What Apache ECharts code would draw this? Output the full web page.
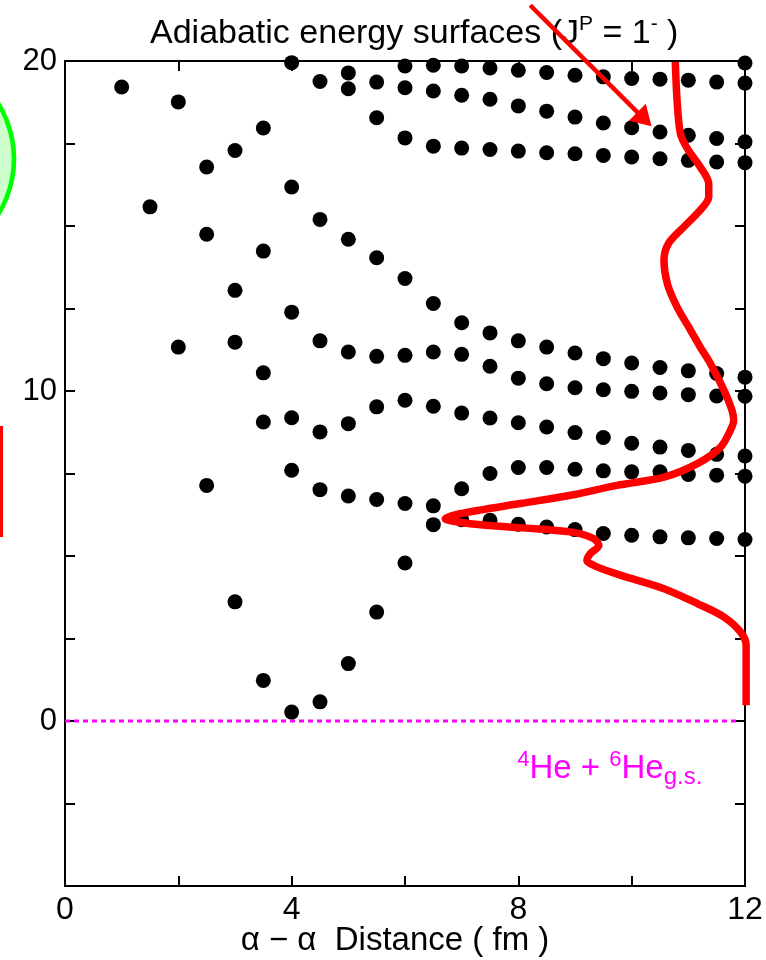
<!DOCTYPE html>
<html><head><meta charset="utf-8">
<script src="https://cdn.jsdelivr.net/npm/echarts@6/dist/echarts.min.js"></script>
<style>html,body{margin:0;padding:0;background:#fff}#c{width:766px;height:960px}</style>
</head><body><div id="c"></div>
<script>
const FONT = '"Liberation Sans", Arial, Helvetica, sans-serif';

// adiabatic energies (MeV) at each alpha-alpha distance (fm)
const e1_0 = [19.21];
const e1_5 = [15.58];
const e2_0 = [18.76, 11.33];
const e2_5 = [16.79, 14.75, 7.14];
const e3_0 = [17.29, 13.05, 11.48, 3.61];
const e3_5 = [17.97, 14.24, 10.55, 9.06, 1.23];
const e4_0 = [19.95, 16.18, 12.39, 9.19, 7.60, 0.27];
const e4_5 = [19.38, 15.20, 11.52, 8.76, 7.01, 0.58];
const e5_0 = [19.64, 19.16, 14.60, 11.18, 9.01, 6.82, 1.74];
const e5_5 = [19.36, 18.28, 14.04, 11.05, 9.52, 6.71, 3.30];
const e6_0 = [19.85, 19.19, 17.67, 13.41, 11.08, 9.72, 6.59, 4.79];
const e6_5 = [19.87, 19.09, 17.42, 12.65, 11.18, 9.54, 6.52, 5.95];
const e7_0 = [19.85, 18.96, 17.36, 12.07, 11.11, 9.33, 7.04, 6.10];
const e7_5 = [19.79, 18.84, 17.32, 11.76, 10.75, 9.18, 7.50, 6.08];
const e8_0 = [19.72, 18.64, 17.27, 11.52, 10.39, 9.04, 7.68, 5.96];
const e8_5 = [19.65, 18.48, 17.22, 11.33, 10.22, 8.91, 7.68, 5.88];
const e9_0 = [19.57, 18.30, 17.19, 11.15, 10.10, 8.74, 7.63, 5.80];
const e9_5 = [19.52, 18.12, 17.14, 10.98, 10.04, 8.59, 7.58, 5.68];
const e10_0 = [19.47, 17.98, 17.09, 10.85, 9.99, 8.42, 7.55, 5.63];
const e10_5 = [19.45, 17.85, 17.04, 10.71, 9.94, 8.30, 7.55, 5.58];
const e11_0 = [19.42, 17.75, 16.99, 10.61, 9.89, 8.20, 7.47, 5.55];
const e11_5 = [19.36, 17.65, 16.94, 10.53, 9.85, 8.08, 7.45, 5.53];
const e12_0 = [19.94, 19.33, 17.55, 16.92, 10.42, 9.84, 8.03, 7.42, 5.50];

const distances = [1, 1.5, 2, 2.5, 3, 3.5, 4, 4.5, 5, 5.5, 6, 6.5, 7, 7.5, 8, 8.5, 9, 9.5, 10, 10.5, 11, 11.5, 12];
const energyColumns = [e1_0, e1_5, e2_0, e2_5, e3_0, e3_5, e4_0, e4_5, e5_0, e5_5, e6_0, e6_5, e7_0, e7_5, e8_0, e8_5, e9_0, e9_5, e10_0, e10_5, e11_0, e11_5, e12_0];

// red wave-function-like curve (x, y) in data units
const curveX = [10.77, 10.80, 10.86, 10.98, 11.21, 11.36, 11.36, 11.21, 10.92, 10.65, 10.57, 10.63, 10.80, 11.04, 11.21, 11.39, 11.63, 11.77, 11.80, 11.77, 11.57, 11.16, 10.57, 9.74, 8.92, 8.03, 6.97, 6.71, 7.15, 8.03, 8.92, 9.33, 9.42, 9.27, 9.21, 9.39, 9.80, 10.57, 11.16, 11.63, 11.92, 12.02, 12.02];
const curveY = [19.97, 18.84, 17.80, 17.35, 16.79, 16.28, 15.88, 15.48, 14.97, 14.47, 13.96, 13.25, 12.55, 11.84, 11.33, 10.83, 10.02, 9.42, 9.11, 8.91, 8.30, 7.80, 7.39, 7.14, 6.84, 6.59, 6.28, 6.13, 5.98, 5.86, 5.73, 5.53, 5.32, 5.07, 4.87, 4.67, 4.42, 4.01, 3.56, 3.15, 2.70, 2.29, 0.48];

// threshold line (4He + 6He g.s.)
const thresholdX = [0, 11.85];
const thresholdY = [0, 0];

// arrow (data units)
const arrowFrom = [8.21, 21.69];
const arrowTo = [10.35, 18.02];
const thresholdLabelPos = [7.98, -0.86];

const xTickLabels = [0, 4, 8, 12];
const yTickLabels = [0, 10, 20];

const dots = [];
distances.forEach((d, i) => energyColumns[i].forEach(e => dots.push([d, e])));
const curve = curveX.map((x, i) => [x, curveY[i]]);
const threshold = thresholdX.map((x, i) => [x, thresholdY[i]]);

const axisCommon = {
  axisLine: { show: true, onZero: false, lineStyle: { color: '#000', width: 2 } },
  axisTick: { show: true, inside: true, length: 10, lineStyle: { color: '#000', width: 2 } },
  splitLine: { show: false }
};

const chart = echarts.init(document.getElementById('c'), null, { renderer: 'canvas' });
const option = {
  backgroundColor: '#fff',
  animation: false,
  title: {
    text: 'Adiabatic energy surfaces (J{sup|P} = 1{sup|-} )',
    left: 145, top: 9,
    textStyle: {
      fontFamily: FONT, fontSize: 34, fontWeight: 'normal', color: '#000', lineHeight: 40,
      rich: { sup: { fontFamily: FONT, fontSize: 21, lineHeight: 18, verticalAlign: 'top', color: '#000' } }
    }
  },
  grid: { left: 65, right: 21, top: 61, bottom: 74, outerBoundsMode: 'none', containLabel: false },
  xAxis: [
    Object.assign({
      type: 'value', min: 0, max: 12, interval: 2, position: 'bottom',
      name: 'α − α  Distance ( fm )', nameLocation: 'middle', nameGap: 38, nameMoveOverlap: false,
      nameTextStyle: { fontFamily: FONT, fontSize: 33, color: '#000', padding: [0, 20, 0, 0] },
      axisLabel: {
        fontFamily: FONT, fontSize: 32, color: '#000', margin: 8,
        formatter: v => (xTickLabels.indexOf(v) >= 0 ? String(v) : '')
      }
    }, axisCommon),
    Object.assign({
      type: 'value', min: 0, max: 12, interval: 2, position: 'top', axisLabel: { show: false }
    }, axisCommon)
  ],
  yAxis: [
    Object.assign({
      type: 'value', min: -5, max: 20, interval: 2.5, position: 'left',
      axisLabel: {
        fontFamily: FONT, fontSize: 31, color: '#000', margin: 8, padding: [0, 0, 8, 0],
        formatter: v => (yTickLabels.indexOf(v) >= 0 ? String(v) : '')
      }
    }, axisCommon),
    Object.assign({
      type: 'value', min: -5, max: 20, interval: 2.5, position: 'right', axisLabel: { show: false }
    }, axisCommon)
  ],
  series: [
    {
      type: 'line', data: threshold, xAxisIndex: 0, yAxisIndex: 0, symbol: 'none',
      lineStyle: { color: '#ff00ff', width: 3, type: [5, 4] }, z: 2
    },
    {
      type: 'scatter', data: dots, xAxisIndex: 0, yAxisIndex: 0, symbol: 'circle', symbolSize: 15,
      itemStyle: { color: '#000', opacity: 1 }, clip: false, z: 3
    },
    {
      type: 'line', data: curve, xAxisIndex: 0, yAxisIndex: 0, symbol: 'none', smooth: 0.3,
      lineStyle: { color: '#ff0000', width: 7.5 }, z: 4
    }
  ]
};
chart.setOption(option);

const p0 = chart.convertToPixel({ seriesIndex: 2 }, arrowFrom);
const p1 = chart.convertToPixel({ seriesIndex: 2 }, arrowTo);
const lp = chart.convertToPixel({ seriesIndex: 2 }, thresholdLabelPos);
const dx = p1[0] - p0[0], dy = p1[1] - p0[1];
const len = Math.sqrt(dx * dx + dy * dy);
const ux = dx / len, uy = dy / len;
const headL = 20, headW = 12;
const bx = p1[0] - ux * headL, by = p1[1] - uy * headL;

chart.setOption({
  graphic: [
    { type: 'circle', shape: { cx: -91, cy: 159, r: 105 }, style: { fill: '#ccffcc', stroke: '#00ff00', lineWidth: 4.6 }, z: 100 },
    { type: 'rect', shape: { x: 0, y: 426, width: 3, height: 111 }, style: { fill: '#ff0000' }, z: 100 },
    { type: 'line', shape: { x1: p0[0], y1: p0[1], x2: bx + ux * 2, y2: by + uy * 2 }, style: { stroke: '#ff0000', lineWidth: 4.5 }, z: 100 },
    { type: 'polygon', shape: { points: [[p1[0], p1[1]], [bx - uy * headW, by + ux * headW], [bx + uy * headW, by - ux * headW]] }, style: { fill: '#ff0000' }, z: 100 },
    {
      type: 'text', left: lp[0], top: lp[1], z: 100,
      style: {
        text: '{sup|4}He + {sup|6}He{sub|g.s.}',
        fontFamily: FONT, fontSize: 33, fill: '#ff00ff', lineHeight: 40,
        rich: {
          sup: { fontFamily: FONT, fontSize: 22, lineHeight: 22, verticalAlign: 'top', fill: '#ff00ff' },
          sub: { fontFamily: FONT, fontSize: 24, lineHeight: 24, verticalAlign: 'bottom', fill: '#ff00ff' }
        }
      }
    }
  ]
});
</script>
</body></html>
